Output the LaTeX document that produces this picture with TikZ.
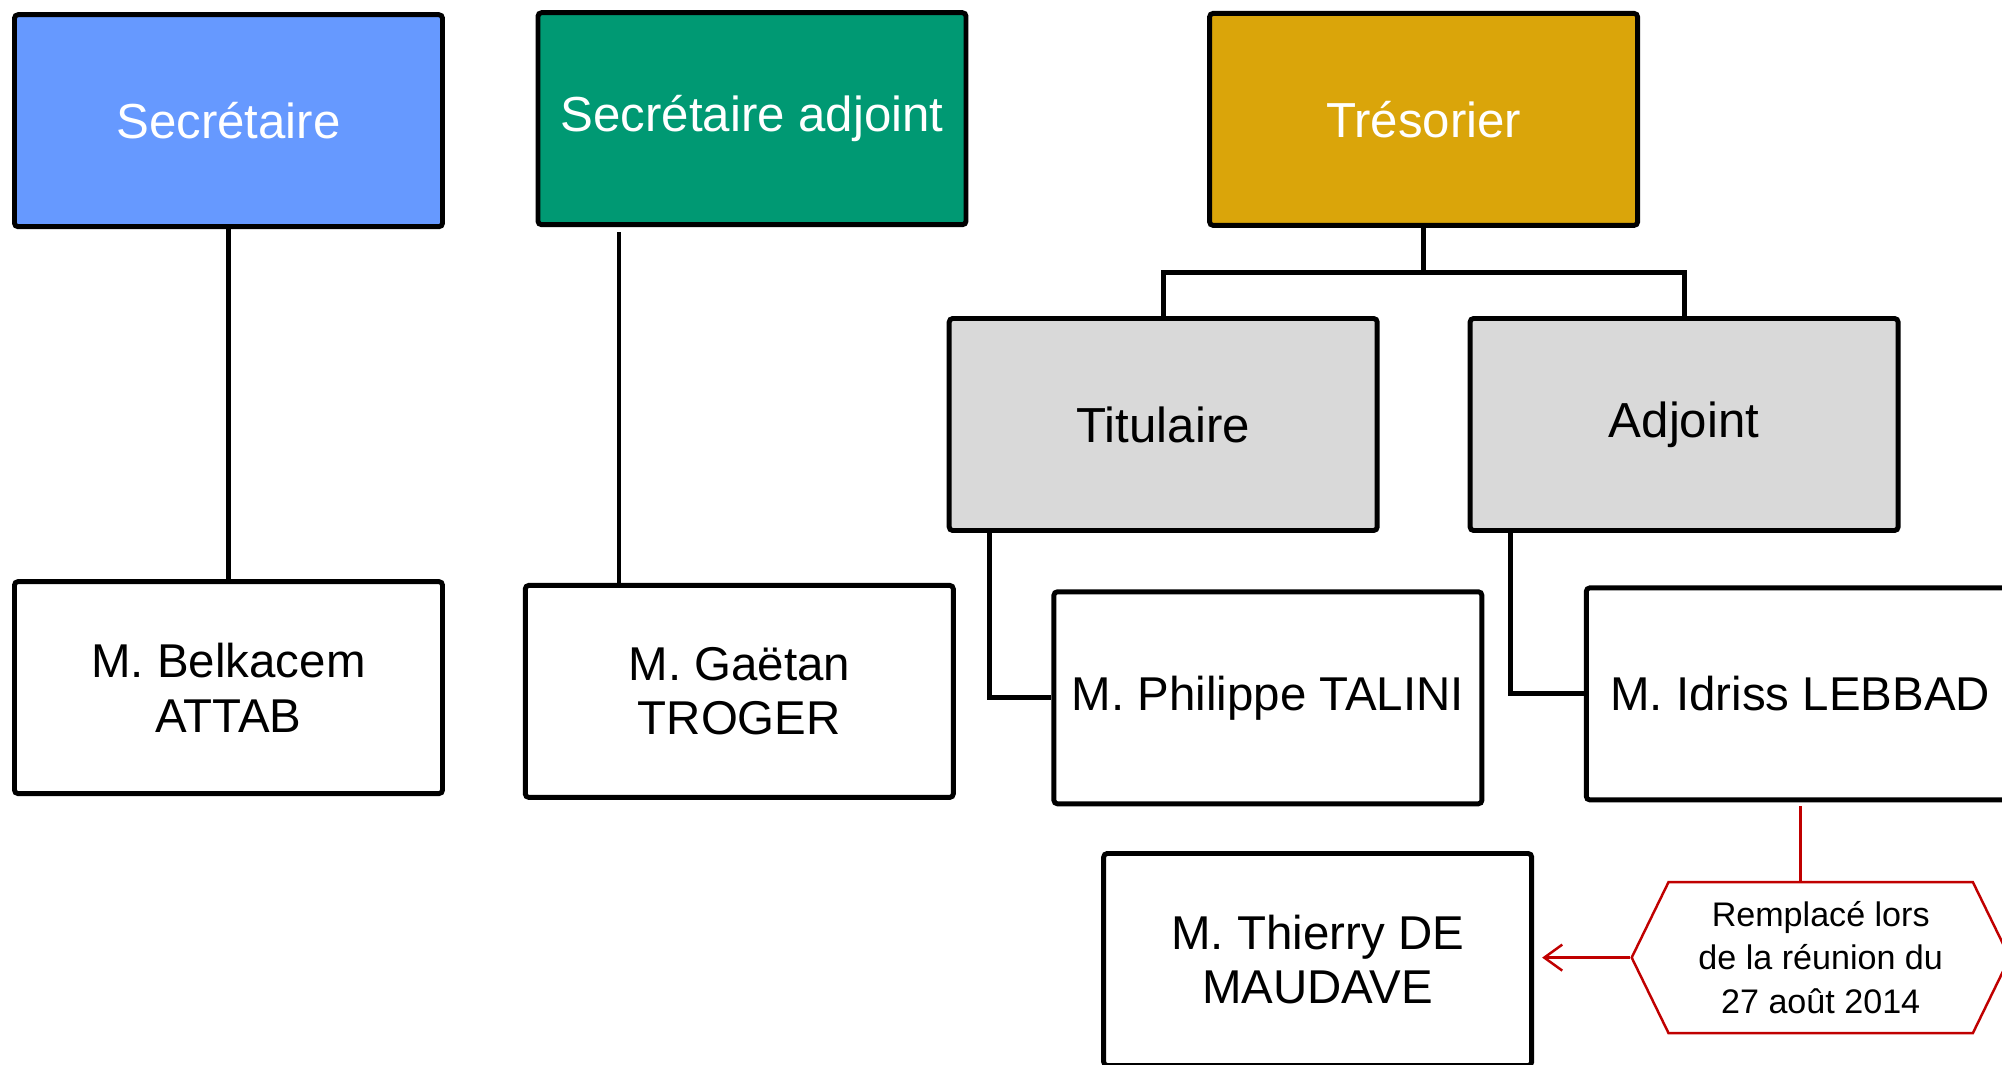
\documentclass[tikz,border=0pt]{standalone}
\usepackage{fontspec}
\setmainfont{Liberation Sans}
\usetikzlibrary{shapes.symbols,arrows.meta}
\definecolor{bleu}{HTML}{6699FF}
\definecolor{vert}{HTML}{009973}
\definecolor{jaune}{HTML}{DAA50A}
\definecolor{gris}{HTML}{D9D9D9}
\definecolor{rouge}{HTML}{C00000}
\begin{document}
\begin{tikzpicture}[>={Straight Barb[length=1.8mm,width=2.6mm]},
	poste/.style={draw, line width=1.4pt, rounded corners=1pt, minimum width=4.28cm, minimum height=2.12cm, align=center, text=white, font=\fontsize{14}{16}\selectfont},
	membre/.style={draw, line width=1.4pt, rounded corners=1pt, fill=white, minimum width=4.28cm, minimum height=2.12cm, align=center, font=\fontsize{13.5}{15.5}\selectfont},
	lien/.style={line width=1.4pt},
	note/.style={draw=rouge, line width=0.7pt, shape=signal, signal to=west and east, signal pointer angle=128, minimum width=3.78cm, minimum height=1.51cm, inner sep=1pt, align=center, font=\fontsize{9.7}{12.3}\selectfont}]
			\useasboundingbox (0,0) rectangle (20.02,-10.65);
			\node[poste, fill=bleu] (sec) at (2.285,-1.207) {Secrétaire};
			\node[poste, fill=vert] (secadj) at (7.52,-1.187) {Secrétaire adjoint};
			\node[poste, fill=jaune] (treso) at (14.236,-1.194) {Trésorier};
			\node[poste, fill=gris, text=black] (titul) at (11.632,-4.245) {Titulaire};
			\node[poste, fill=gris, text=black] (adj) at (16.841,-4.245) {Adjoint};
			\node[membre] (attab) at (2.285,-6.876) {M. Belkacem\\ATTAB};
			\node[membre] (troger) at (7.393,-6.914) {M. Gaëtan\\TROGER};
			\node[membre] (talini) at (12.679,-6.978) {M. Philippe TALINI};
			\node[membre] (lebbad) at (18.003,-6.939) {M. Idriss LEBBAD};
			\node[membre] (maudave) at (13.177,-9.595) {M. Thierry DE\\MAUDAVE};
			\node[note] (remplace) at (18.207,-9.576) {Remplacé lors\\de la réunion du\\27 août 2014};
			\coordinate (sa) at ([xshift=-1.33cm, yshift=-0.05cm]secadj.south);
			\draw[lien] (sec.south) -- (attab.north);
			\draw[lien] (sa) -- (sa |- troger.north);
			\draw[lien] (treso.south) -- ++(0,-0.45) -| (titul.north);
			\draw[lien] (treso.south) -- ++(0,-0.45) -| (adj.north);
			\draw[lien] ([xshift=0.43cm]titul.south west) |- (talini.west);
			\draw[lien] ([xshift=0.43cm]adj.south west) |- (lebbad.west);
			\draw[rouge, line width=0.7pt] ([yshift=-0.04cm]lebbad.south) -- (lebbad.south |- remplace.north);
			\draw[->, rouge, line width=0.7pt, shorten >=0.08cm] (remplace.west) -- (remplace.west -| maudave.east);
		\end{tikzpicture}
\end{document}
